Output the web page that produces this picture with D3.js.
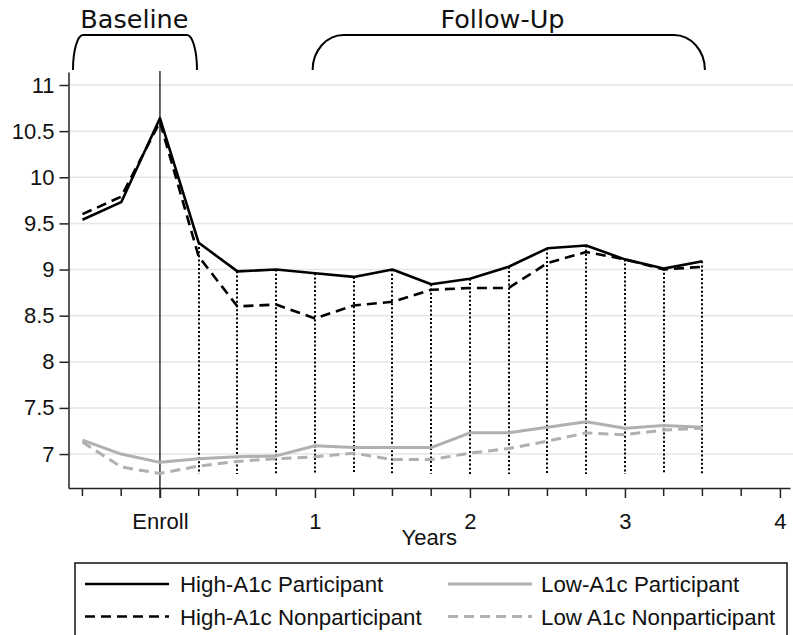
<!DOCTYPE html>
<html>
<head>
<meta charset="utf-8">
<script src="https://cdn.jsdelivr.net/npm/d3@7"></script>
<style>
  body { margin: 0; background: #fff; }
  text { font-family: "Liberation Sans", Arial, sans-serif; fill: #111; }
</style>
</head>
<body>
<div id="container"></div>
<script>
/* CONSTANTS AND GLOBALS */
const width = 793;
const height = 635;
const margin = { top: 72, right: 3, bottom: 147, left: 68.5 };

/* DATA */
const years = [-0.5, -0.25, 0, 0.25, 0.5, 0.75, 1, 1.25, 1.5, 1.75, 2, 2.25, 2.5, 2.75, 3, 3.25, 3.5];
const highParticipant = [9.54, 9.73, 10.64, 9.29, 8.98, 9.0, 8.96, 8.92, 9.0, 8.84, 8.9, 9.03, 9.23, 9.26, 9.11, 9.01, 9.09];
const highNonparticipant = [9.6, 9.79, 10.6, 9.14, 8.6, 8.62, 8.47, 8.61, 8.65, 8.78, 8.8, 8.8, 9.07, 9.19, 9.11, 9.0, 9.03];
const lowParticipant = [7.15, 7.0, 6.91, 6.95, 6.97, 6.98, 7.09, 7.07, 7.07, 7.07, 7.23, 7.23, 7.29, 7.35, 7.28, 7.31, 7.29];
const lowNonparticipant = [7.13, 6.86, 6.79, 6.87, 6.92, 6.95, 6.97, 7.01, 6.94, 6.94, 7.01, 7.06, 7.14, 7.23, 7.21, 7.26, 7.28];

const seriesNames = ["High-A1c Participant", "High-A1c Nonparticipant", "Low-A1c Participant", "Low A1c Nonparticipant"];
const yTicks = [7, 7.5, 8, 8.5, 9, 9.5, 10, 10.5, 11];
const xMajorTicks = [0, 1, 2, 3, 4];
const xMajorLabels = ["Enroll", "1", "2", "3", "4"];
const xMinorTicks = [-0.5, -0.25, 0.25, 0.5, 0.75, 1.25, 1.5, 1.75, 2.25, 2.5, 2.75, 3.25, 3.5, 3.75];
const dropBottom = 6.783; // where the dotted drop lines stop
const periods = [
  { label: "Baseline", from: -0.561, to: 0.239, labelAt: -0.165, rx: 10 },
  { label: "Follow-Up", from: 0.985, to: 3.516, labelAt: 2.21, rx: 31 }
];

/* SCALES */
const xScale = d3.scaleLinear()
  .domain([-0.59, 4.065])
  .range([margin.left, width - margin.right]);

const yScale = d3.scaleLinear()
  .domain([6.632, 11.141])
  .range([height - margin.bottom, margin.top]);

/* SVG ELEMENT */
const svg = d3.select("#container")
  .append("svg")
  .attr("width", width)
  .attr("height", height);

/* GRIDLINES */
svg.append("g")
  .selectAll("line")
  .data(yTicks)
  .join("line")
  .attr("x1", margin.left)
  .attr("x2", width)
  .attr("y1", d => yScale(d))
  .attr("y2", d => yScale(d))
  .attr("stroke", "#e6e6e6")
  .attr("stroke-width", 1.5);

/* DOTTED DROP LINES (follow-up visits) */
const dropData = years
  .map((x, i) => ({ x, top: Math.max(highParticipant[i], highNonparticipant[i]) }))
  .filter(d => d.x > 0);

svg.append("g")
  .selectAll("line")
  .data(dropData)
  .join("line")
  .attr("x1", d => Math.round(xScale(d.x)))
  .attr("x2", d => Math.round(xScale(d.x)))
  .attr("y1", d => yScale(d.top))
  .attr("y2", yScale(dropBottom))
  .attr("stroke", "#000")
  .attr("stroke-width", 2)
  .attr("stroke-dasharray", "2,2.2");

/* ENROLL LINE */
svg.append("line")
  .attr("x1", xScale(0))
  .attr("x2", xScale(0))
  .attr("y1", margin.top - 1)
  .attr("y2", height - margin.bottom + 10)
  .attr("stroke", "#333")
  .attr("stroke-width", 1.5);

/* SERIES LINES */
const styles = [
  { values: highParticipant, color: "#000", width: 2.6, dash: null },
  { values: highNonparticipant, color: "#000", width: 2.6, dash: "10,6" },
  { values: lowParticipant, color: "#b0b0b0", width: 3, dash: null },
  { values: lowNonparticipant, color: "#b0b0b0", width: 3, dash: "10,6" }
];

const line = d3.line()
  .x(d => xScale(d[0]))
  .y(d => yScale(d[1]));

svg.append("g")
  .selectAll("path")
  .data(styles.slice().reverse())
  .join("path")
  .attr("d", s => line(years.map((x, i) => [x, s.values[i]])))
  .attr("fill", "none")
  .attr("stroke", s => s.color)
  .attr("stroke-width", s => s.width)
  .attr("stroke-dasharray", s => s.dash)
  .attr("stroke-linejoin", "round");

/* AXES */
const yAxis = d3.axisLeft(yScale)
  .tickValues(yTicks)
  .tickFormat(d3.format("~g"))
  .tickSizeInner(9)
  .tickSizeOuter(0)
  .tickPadding(5);

svg.append("g")
  .attr("transform", `translate(${margin.left}, 0)`)
  .call(yAxis)
  .call(g => g.selectAll("text").style("font-size", "22px").attr("fill", "#111"))
  .call(g => g.selectAll("line, path").attr("stroke", "#222").attr("stroke-width", 1.5));

const xAxis = d3.axisBottom(xScale)
  .tickValues(xMajorTicks)
  .tickFormat((d, i) => xMajorLabels[i])
  .tickSizeInner(10)
  .tickSizeOuter(0)
  .tickPadding(15);

svg.append("g")
  .attr("transform", `translate(0, ${height - margin.bottom})`)
  .call(xAxis)
  .call(g => g.selectAll("text").style("font-size", "22px").attr("fill", "#111"))
  .call(g => g.selectAll("line, path").attr("stroke", "#222").attr("stroke-width", 1.5));

svg.append("g")
  .selectAll("line")
  .data(xMinorTicks)
  .join("line")
  .attr("x1", d => xScale(d))
  .attr("x2", d => xScale(d))
  .attr("y1", height - margin.bottom)
  .attr("y2", height - margin.bottom + 8)
  .attr("stroke", "#222")
  .attr("stroke-width", 1.5);

/* AXIS LABEL */
svg.append("text")
  .attr("x", (margin.left + width - margin.right) / 2)
  .attr("y", 545)
  .attr("text-anchor", "middle")
  .style("font-size", "22px")
  .text("Years");

/* PERIOD BRACES */
const braceBottom = 70;
const braceTop = 35;
const braces = svg.append("g");

periods.forEach(p => {
  const x0 = xScale(p.from);
  const x1 = xScale(p.to);
  const ry = braceBottom - braceTop;
  const path = `M${x0},${braceBottom} A${p.rx},${ry} 0 0 1 ${x0 + p.rx},${braceTop}` +
    ` L${x1 - p.rx},${braceTop} A${p.rx},${ry} 0 0 1 ${x1},${braceBottom}`;
  braces.append("path")
    .attr("d", path)
    .attr("fill", "none")
    .attr("stroke", "#000")
    .attr("stroke-width", 2);
  braces.append("text")
    .attr("x", xScale(p.labelAt))
    .attr("y", 28)
    .attr("text-anchor", "middle")
    .style("font-family", "'DejaVu Sans', Verdana, sans-serif")
    .style("font-size", "25.5px")
    .text(p.label);
});

/* LEGEND */
const legend = svg.append("g");
legend.append("rect")
  .attr("x", 75)
  .attr("y", 563)
  .attr("width", 712)
  .attr("height", 80)
  .attr("fill", "#fff")
  .attr("stroke", "#111")
  .attr("stroke-width", 1.5);

const legendPos = [
  { sx: 85, tx: 180, y: 584 },
  { sx: 85, tx: 180, y: 616.5 },
  { sx: 448, tx: 541, y: 584 },
  { sx: 448, tx: 541, y: 616.5 }
];

styles.forEach((s, i) => {
  const pos = legendPos[i];
  legend.append("line")
    .attr("x1", pos.sx)
    .attr("x2", pos.sx + 84)
    .attr("y1", pos.y)
    .attr("y2", pos.y)
    .attr("stroke", s.color)
    .attr("stroke-width", s.width)
    .attr("stroke-dasharray", s.dash);
  legend.append("text")
    .attr("x", pos.tx)
    .attr("y", pos.y + 8)
    .style("font-size", "22.3px")
    .text(seriesNames[i]);
});
</script>
</body>
</html>
